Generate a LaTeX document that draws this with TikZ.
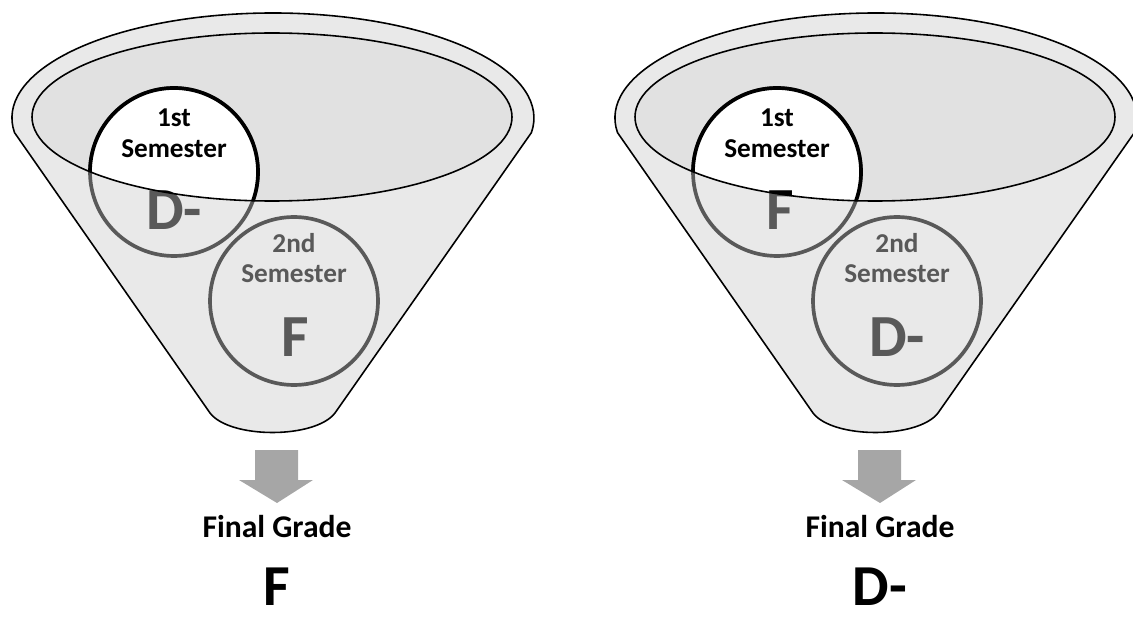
\documentclass[tikz,border=0pt]{standalone}
\usepackage{fontspec}
\setmainfont{Carlito}
\usetikzlibrary{positioning}
\definecolor{funnelgray}{HTML}{E9E9E9}
\definecolor{openinggray}{HTML}{E1E1E1}
\definecolor{ringgray}{HTML}{595959}
\definecolor{arrowgray}{HTML}{A6A6A6}
\newcommand{\semfont}{\fontsize{15.5}{18}\selectfont\bfseries}
\newcommand{\gradefont}{\fontsize{34}{38}\selectfont\bfseries}
\tikzset{
  funnel/.style={fill=funnelgray, draw=black, line width=0.9pt, line join=round},
  rim/.style={draw=black, line width=0.9pt},
  semring/.style={circle, draw=ringgray, line width=2.1pt, minimum size=3.36cm, inner sep=0pt},
  semringtop/.style={draw=black, line width=2.1pt},
  semlabel/.style={anchor=base, inner sep=0pt, font=\semfont},
  gradelabel/.style={anchor=base, inner sep=0pt, font=\gradefont},
  finallabel/.style={anchor=base, inner sep=0pt, font=\fontsize{18}{21}\selectfont\bfseries},
  finalgrade/.style={anchor=base, inner sep=0pt, font=\fontsize{33}{36}\selectfont\bfseries}
}

\begin{document}
\begin{tikzpicture}[x=0.02cm, y=-0.02cm]
  \useasboundingbox (0,0) rectangle (1133,618);

  %Left funnel
  \draw[funnel] (14.5,132.6) arc[start angle=172, end angle=368, x radius=261, y radius=105]
    -- (335,413) .. controls (315,439) and (230,439) .. (210,413) -- cycle;
  \coordinate (openA) at (272,117);
  \fill[openinggray] (openA) ellipse[x radius=240, y radius=84];

  %Semester circles, left
  \node[semring] (semA1) at (174,172) {};
  \node[gradelabel, text=ringgray] (gradeA1) at (174,230) {D-};
  \node[semring] (semA2) at (294,301) {};
  \node[semlabel, text=ringgray] (nameA2) at (294,253) {2nd};
  \node[semlabel, text=ringgray] (wordA2) at (294,283) {Semester};
  \node[gradelabel, text=ringgray] (gradeA2) at (295,357) {F};
  \begin{scope}
    \clip (openA) ellipse[x radius=240, y radius=84];
    \fill[white] (semA1.center) circle[radius=84];
    \draw[semringtop] (semA1.center) circle[radius=84];
    \node[semlabel] (nameA1) at (174,127) {1st};
    \node[semlabel] (wordA1) at (174,158) {Semester};
    \node[gradelabel] (gradeA1top) at (174,230) {D-};
  \end{scope}
  \draw[rim] (openA) ellipse[x radius=240, y radius=84];

  %Result, left
  \coordinate (arrowA) at (277,450);
  \fill[arrowgray] (arrowA) +(-22,0) -- +(21,0) -- +(21,30) -- +(36,30) -- +(0,53) -- +(-38,30) -- +(-22,30) -- cycle;
  \node[finallabel] (finalA) at (277,537) {Final Grade};
  \node[finalgrade] (resultA) at (277,605) {F};

  %Right funnel
  \draw[funnel] (617.5,132.6) arc[start angle=172, end angle=368, x radius=261, y radius=105]
    -- (938,413) .. controls (918,439) and (833,439) .. (813,413) -- cycle;
  \coordinate (openB) at (875,117);
  \fill[openinggray] (openB) ellipse[x radius=240, y radius=84];

  %Semester circles, right
  \node[semring] (semB1) at (777,172) {};
  \node[gradelabel, text=ringgray] (gradeB1) at (780,230) {F};
  \node[semring] (semB2) at (897,301) {};
  \node[semlabel, text=ringgray] (nameB2) at (897,253) {2nd};
  \node[semlabel, text=ringgray] (wordB2) at (897,283) {Semester};
  \node[gradelabel, text=ringgray] (gradeB2) at (897,357) {D-};
  \begin{scope}
    \clip (openB) ellipse[x radius=240, y radius=84];
    \fill[white] (semB1.center) circle[radius=84];
    \draw[semringtop] (semB1.center) circle[radius=84];
    \node[semlabel] (nameB1) at (777,127) {1st};
    \node[semlabel] (wordB1) at (777,158) {Semester};
    \node[gradelabel] (gradeB1top) at (780,230) {F};
  \end{scope}
  \draw[rim] (openB) ellipse[x radius=240, y radius=84];

  %Result, right
  \coordinate (arrowB) at (880,450);
  \fill[arrowgray] (arrowB) +(-22,0) -- +(21,0) -- +(21,30) -- +(36,30) -- +(0,53) -- +(-38,30) -- +(-22,30) -- cycle;
  \node[finallabel] (finalB) at (880,537) {Final Grade};
  \node[finalgrade] (resultB) at (880,605) {D-};
\end{tikzpicture}
\end{document}
